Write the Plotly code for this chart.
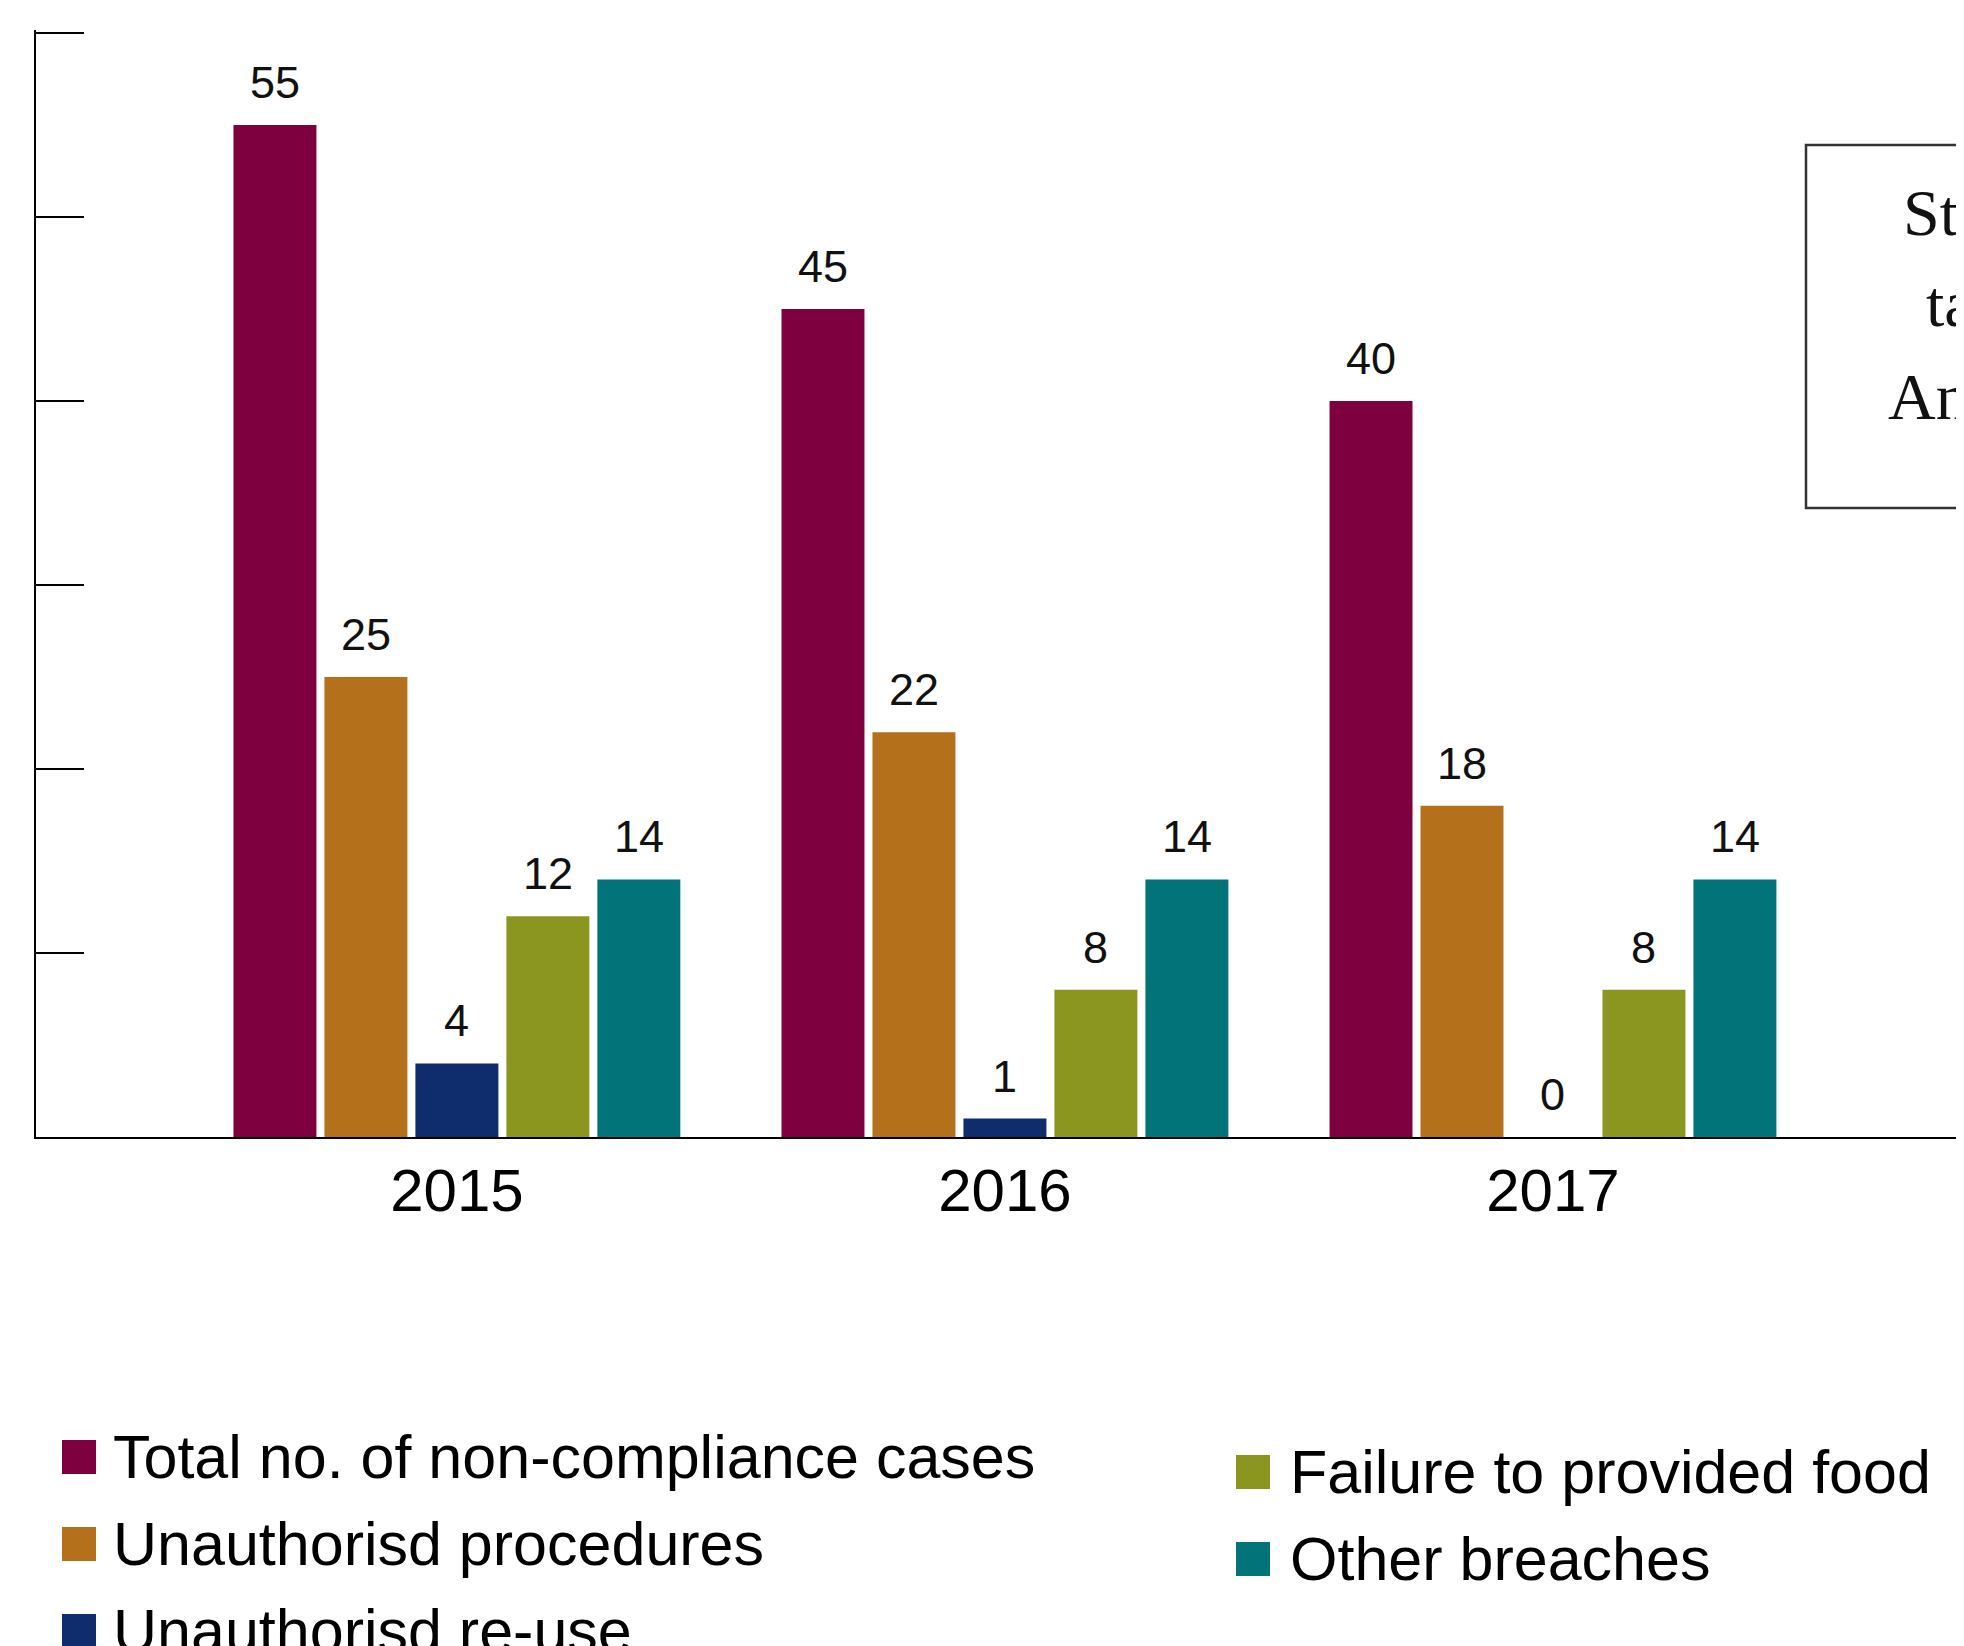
import plotly.graph_objects as go

# ---------------- data ----------------
years = ["2015", "2016", "2017"]
series_names = [
    "Total no. of non-compliance cases",
    "Unauthorisd procedures",
    "Unauthorisd re-use",
    "Failure to provided food",
    "Other breaches",
]
total_cases = [55, 45, 40]
unauth_procedures = [25, 22, 18]
unauth_reuse = [4, 1, 0]
failure_food = [12, 8, 8]
other_breaches = [14, 14, 14]
y_tick_values = [0, 10, 20, 30, 40, 50, 60]
box_lines = ["Statistics", "taken from", "Annual Reports"]

series_values = [total_cases, unauth_procedures, unauth_reuse, failure_food, other_breaches]
colors = ["#7F003F", "#B5701C", "#0F2D6C", "#8B9620", "#027479"]

# ---------------- geometry / style ----------------
# the page body adds an 8px margin; window coords = figure coords + OFF
OFF = 8
WIN_W, WIN_H = 1964, 1646
W, H = WIN_W - OFF, WIN_H - OFF
Y_MAX = 60
TOP_PAD = 3                                   # px above top tick so it is drawn
PLOT_L, TICK_T, PLOT_B = 36, 33, 1137         # window pixels
PLOT_T = TICK_T - TOP_PAD
Y_TOP = Y_MAX * (PLOT_B - PLOT_T) / (PLOT_B - TICK_T)
ML, MT = PLOT_L - OFF, PLOT_T - OFF
MB = H - (PLOT_B - OFF)
PW = W - ML
PH = H - MT - MB
BARGAP = 0.17
GROUPGAP = 0.088
SANS = "Liberation Sans"
SERIF = "Liberation Serif"


def px_x(px):
    return (px - PLOT_L) / PW


def px_y(py):
    return (PLOT_B - py) / PH


fig = go.Figure()
xs = list(range(len(years)))
for name, vals, col in zip(series_names, series_values, colors):
    fig.add_trace(go.Bar(x=xs, y=vals, name=name, marker_color=col,
                         marker_line_width=0, showlegend=False))

# value labels above each bar (positions derived from grouped-bar slots)
n = len(series_names)
slot = (1 - BARGAP) / n
annotations = []
for k, vals in enumerate(series_values):
    off = (k - (n - 1) / 2) * slot
    for i, v in enumerate(vals):
        annotations.append(dict(
            x=i + off, y=v, xref="x", yref="y", text=str(v), showarrow=False,
            yanchor="bottom", xanchor="center", yshift=15,
            font=dict(family=SANS, size=45, color="#111111")))

# custom legend (two columns)
legend_cols = [
    dict(items=[0, 1, 2], mx=62, tx=114, top=1440),
    dict(items=[3, 4], mx=1236, tx=1291, top=1455),
]
MS = 34
ROW = 87
shapes = []
for col in legend_cols:
    for r, idx in enumerate(col["items"]):
        y0 = col["top"] + r * ROW
        shapes.append(dict(type="rect", xref="paper", yref="paper",
                           x0=px_x(col["mx"]), x1=px_x(col["mx"] + MS),
                           y0=px_y(y0 + MS), y1=px_y(y0),
                           fillcolor=colors[idx], line=dict(width=0)))
        annotations.append(dict(
            x=px_x(col["tx"] - 3), y=px_y(y0 + MS / 2), xref="paper", yref="paper",
            text=series_names[idx], showarrow=False, xanchor="left", yanchor="middle",
            font=dict(family=SANS, size=61, color="#000000")))

# clipped note box on the right
shapes.append(dict(type="rect", xref="paper", yref="paper",
                   x0=px_x(1806), x1=px_x(2400), y0=px_y(508), y1=px_y(145),
                   line=dict(color="#333333", width=2.5), fillcolor="rgba(0,0,0,0)"))
box_text_x = [1903, 1926, 1888]
box_baselines = [236, 327, 420]
for t, bx, by in zip(box_lines, box_text_x, box_baselines):
    annotations.append(dict(
        x=px_x(bx - 2), y=px_y(by + 15), xref="paper", yref="paper", text=t,
        showarrow=False, xanchor="left", yanchor="bottom",
        font=dict(family=SERIF, size=66, color="#111111")))

fig.update_layout(
    width=W, height=H, autosize=False,
    margin=dict(l=ML, r=0, t=MT, b=MB, pad=0),
    paper_bgcolor="white", plot_bgcolor="white",
    barmode="group", bargap=BARGAP, bargroupgap=GROUPGAP,
    showlegend=False,
    annotations=annotations, shapes=shapes,
    xaxis=dict(range=[-0.768, 2.75], tickvals=xs, ticktext=years,
               showline=True, linecolor="#000000", linewidth=2,
               ticks="", showgrid=False, zeroline=False, automargin=False,
               tickfont=dict(family=SANS, size=60, color="#000000")),
    yaxis=dict(range=[0, Y_TOP], tickvals=y_tick_values, showticklabels=False,
               ticks="inside", ticklen=48, tickwidth=2, tickcolor="#000000",
               showline=True, linecolor="#000000", linewidth=2,
               showgrid=False, zeroline=False, automargin=False),
)

fig.write_html("out.html")
